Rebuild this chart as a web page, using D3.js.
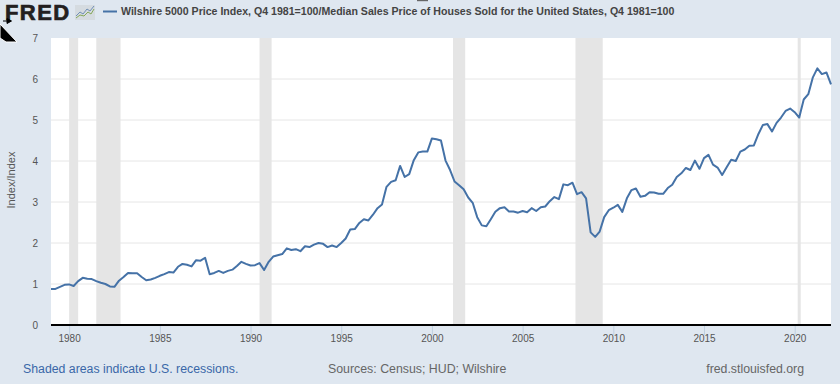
<!DOCTYPE html>
<html>
<head>
<meta charset="utf-8">
<script src="https://d3js.org/d3.v7.min.js"></script>
<style>
  html, body { margin: 0; padding: 0; background: #dfe7f0; }
  svg { display: block; font-family: "Liberation Sans", Arial, sans-serif; }
</style>
</head>
<body>
<div id="chart"></div>
<script>
// Quarterly values, first one is Q1 1979, last one is Q1 2022
const firstYear = 1979;
const values = [
  0.88, 0.88, 0.93, 0.98, 0.99, 0.95, 1.07, 1.15, 1.13, 1.12,
  1.07, 1.03, 1.00, 0.94, 0.93, 1.08, 1.17, 1.27, 1.26, 1.26,
  1.17, 1.09, 1.11, 1.15, 1.20, 1.24, 1.29, 1.28, 1.42, 1.49,
  1.47, 1.43, 1.58, 1.57, 1.64, 1.24, 1.27, 1.32, 1.27, 1.32,
  1.35, 1.44, 1.54, 1.49, 1.45, 1.46, 1.51, 1.34, 1.54, 1.67,
  1.70, 1.73, 1.87, 1.83, 1.85, 1.80, 1.92, 1.90, 1.96, 2.00,
  1.98, 1.90, 1.94, 1.90, 2.00, 2.11, 2.33, 2.34, 2.49, 2.58,
  2.55, 2.69, 2.85, 2.94, 3.37, 3.49, 3.53, 3.88, 3.61, 3.68,
  4.02, 4.21, 4.23, 4.23, 4.55, 4.53, 4.50, 4.01, 3.78, 3.50,
  3.41, 3.31, 3.11, 2.98, 2.63, 2.43, 2.41, 2.58, 2.76, 2.85,
  2.87, 2.77, 2.77, 2.74, 2.78, 2.75, 2.85, 2.78, 2.87, 2.89,
  3.02, 3.12, 3.07, 3.43, 3.41, 3.47, 3.19, 3.24, 3.09, 2.26,
  2.15, 2.28, 2.63, 2.80, 2.86, 2.93, 2.76, 3.09, 3.29, 3.33,
  3.13, 3.15, 3.24, 3.23, 3.20, 3.20, 3.34, 3.42, 3.61, 3.70,
  3.83, 3.78, 4.01, 3.81, 4.07, 4.15, 3.91, 3.84, 3.66, 3.85,
  4.03, 4.00, 4.23, 4.28, 4.37, 4.38, 4.66, 4.88, 4.90, 4.72,
  4.93, 5.06, 5.22, 5.28, 5.19, 5.06, 5.50, 5.63, 6.04, 6.26,
  6.12, 6.16, 5.87
];

// Recession start and end dates
const recessionStarts = ["1980-01-01", "1981-07-01", "1990-07-01", "2001-03-01", "2007-12-01", "2020-03-01"];
const recessionEnds = ["1980-07-01", "1982-11-01", "1991-03-01", "2001-11-01", "2009-06-01", "2020-05-01"];

const yTicks = [0, 1, 2, 3, 4, 5, 6, 7];
const xTickYears = [1980, 1985, 1990, 1995, 2000, 2005, 2010, 2015, 2020];

const titleText = "Wilshire 5000 Price Index, Q4 1981=100/Median Sales Price of Houses Sold for the United States, Q4 1981=100";
const yLabel = "Index/Index";
const noteText = "Shaded areas indicate U.S. recessions.";
const sourceText = "Sources: Census; HUD; Wilshire";
const siteText = "fred.stlouisfed.org";

const width = 840, height = 384;
const margin = { top: 38, right: 9, bottom: 59, left: 51 };
const parseDate = d3.utcParse("%Y-%m-%d");

const data = values.map((v, i) => ({
  date: new Date(Date.UTC(firstYear, i * 3, 1)),
  value: v
}));

const svg = d3.select("#chart").append("svg")
  .attr("width", width)
  .attr("height", height);

svg.append("rect")
  .attr("width", width)
  .attr("height", height)
  .attr("fill", "#dfe7f0");

const x = d3.scaleUtc()
  .domain([data[0].date, data[data.length - 1].date])
  .range([margin.left, width - margin.right]);

const y = d3.scaleLinear()
  .domain([0, 7])
  .range([height - margin.bottom, margin.top]);

// Plot background
svg.append("rect")
  .attr("x", margin.left)
  .attr("y", margin.top)
  .attr("width", width - margin.left - margin.right)
  .attr("height", height - margin.top - margin.bottom)
  .attr("fill", "#ffffff");

// Gridlines
svg.append("g")
  .selectAll("line")
  .data(yTicks.filter(d => d > 0 && d < 7))
  .enter()
  .append("line")
  .attr("x1", margin.left)
  .attr("x2", width - margin.right)
  .attr("y1", d => y(d))
  .attr("y2", d => y(d))
  .attr("stroke", "#e6e6e6")
  .attr("stroke-width", 1);

// Recession bands
svg.append("g")
  .selectAll("rect")
  .data(recessionStarts.map((s, i) => [parseDate(s), parseDate(recessionEnds[i])]))
  .enter()
  .append("rect")
  .attr("x", d => x(d[0]))
  .attr("width", d => x(d[1]) - x(d[0]))
  .attr("y", margin.top)
  .attr("height", height - margin.top - margin.bottom)
  .attr("fill", "#e5e5e5");

// Y axis
const yAxis = svg.append("g")
  .attr("transform", `translate(${margin.left},0)`)
  .call(d3.axisLeft(y).tickValues(yTicks).tickFormat(d3.format("d")).tickSize(0).tickPadding(13));
yAxis.select(".domain").remove();
yAxis.selectAll("text")
  .attr("font-size", 10)
  .attr("font-family", "Liberation Sans")
  .attr("fill", "#555555");

// X axis
const xAxis = svg.append("g")
  .attr("transform", `translate(0,${height - margin.bottom})`)
  .call(d3.axisBottom(x)
    .tickValues(xTickYears.map(yr => new Date(Date.UTC(yr, 0, 1))))
    .tickFormat(d3.utcFormat("%Y"))
    .tickSize(10)
    .tickPadding(0));
xAxis.select(".domain").remove();
xAxis.selectAll("line").attr("stroke", "#c0d0e0");
xAxis.selectAll("text")
  .attr("font-size", 10)
  .attr("font-family", "Liberation Sans")
  .attr("fill", "#555555");

svg.append("line")
  .attr("x1", margin.left)
  .attr("x2", width - margin.right)
  .attr("y1", y(0))
  .attr("y2", y(0))
  .attr("stroke", "#000000")
  .attr("stroke-width", 2);

// Series line
const line = d3.line()
  .x(d => x(d.date))
  .y(d => y(d.value));

svg.append("path")
  .datum(data)
  .attr("d", line)
  .attr("fill", "none")
  .attr("stroke", "#4572a7")
  .attr("stroke-width", 2)
  .attr("stroke-linejoin", "round");

// Y label
svg.append("text")
  .attr("transform", "translate(15,180) rotate(-90)")
  .attr("text-anchor", "middle")
  .attr("font-size", 11)
  .attr("fill", "#555555")
  .text(yLabel);

// Header: logo text, small logo chart, legend key, title
svg.append("text")
  .attr("x", 5)
  .attr("y", 20)
  .attr("font-size", 22)
  .attr("font-weight", 700)
  .attr("letter-spacing", 1.4)
  .attr("fill", "#231f20")
  .attr("stroke", "#231f20")
  .attr("stroke-width", 0.7)
  .text("FRED");

svg.append("rect")
  .attr("x", 75)
  .attr("y", 5)
  .attr("width", 20)
  .attr("height", 15)
  .attr("fill", "#d5dbe0");

svg.append("path")
  .attr("d", "M76,16 L80,12 L83,14 L87,9 L90,11 L94,6")
  .attr("fill", "none")
  .attr("stroke", "#6f8fb5")
  .attr("stroke-width", 1);

svg.append("path")
  .attr("d", "M76,18 L80,15 L84,16 L88,12 L91,14 L94,9")
  .attr("fill", "none")
  .attr("stroke", "#85a85a")
  .attr("stroke-width", 1);

svg.append("line")
  .attr("x1", 103)
  .attr("x2", 117)
  .attr("y1", 11.5)
  .attr("y2", 11.5)
  .attr("stroke", "#4572a7")
  .attr("stroke-width", 2);

svg.append("text")
  .attr("x", 121)
  .attr("y", 15)
  .attr("font-size", 10.6)
  .attr("font-weight", 700)
  .attr("fill", "#444444")
  .text(titleText);

// Footer
svg.append("text")
  .attr("x", 23)
  .attr("y", 373)
  .attr("font-size", 12.3)
  .attr("fill", "#3a67a8")
  .text(noteText);

svg.append("text")
  .attr("x", 328)
  .attr("y", 373)
  .attr("font-size", 12.35)
  .attr("fill", "#666666")
  .text(sourceText);

svg.append("text")
  .attr("x", 804)
  .attr("y", 373)
  .attr("text-anchor", "end")
  .attr("font-size", 12.3)
  .attr("fill", "#666666")
  .text(siteText);

// Screenshot leftovers: mouse cursor top left, dark sliver at the top edge
svg.append("path")
  .attr("d", "M0,24 L17,42 L6,42 L0,38 Z")
  .attr("fill", "#000000")
  .attr("stroke", "#ffffff")
  .attr("stroke-width", 1);

svg.append("path")
  .attr("d", "M3,21 L7,21 L7,18.5 L11.5,21 L7,23.5 L7,21")
  .attr("fill", "#000000")
  .attr("stroke", "#000000")
  .attr("stroke-width", 1);

svg.append("rect")
  .attr("x", 417)
  .attr("y", 0)
  .attr("width", 11)
  .attr("height", 1.2)
  .attr("fill", "#666666");
</script>
</body>
</html>
